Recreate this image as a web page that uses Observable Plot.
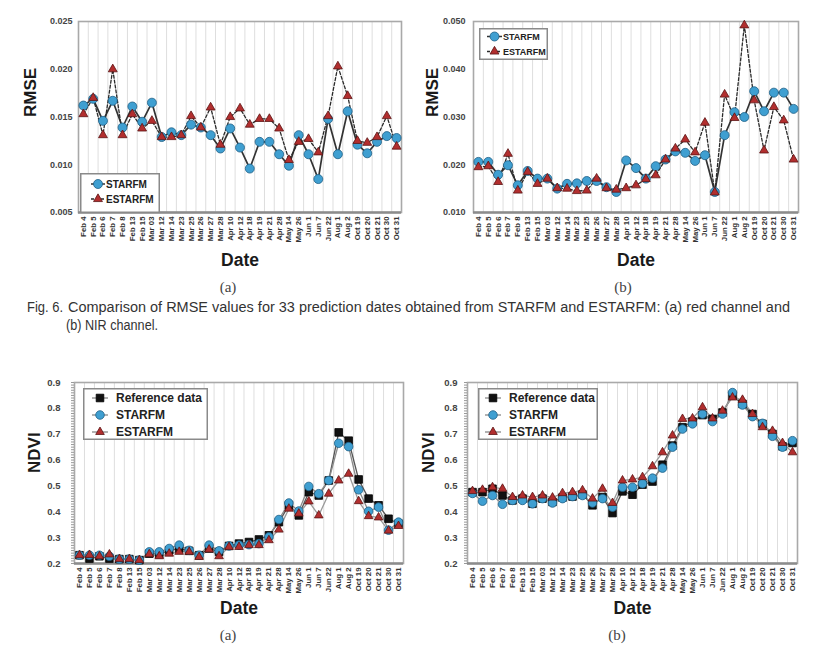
<!DOCTYPE html>
<html><head><meta charset="utf-8">
<script src="https://cdn.jsdelivr.net/npm/d3@7"></script>
<script src="https://cdn.jsdelivr.net/npm/@observablehq/plot@0.6"></script>
<style>
body{margin:0;background:#fff;}
#page{position:relative;width:818px;height:660px;overflow:hidden;background:#fff;font-family:"Liberation Sans",Arial,sans-serif;}
.panel{position:absolute;}
.panel svg{overflow:visible;}
.sub{position:absolute;font-family:"Liberation Serif","DejaVu Serif",serif;font-size:15px;color:#444;transform:translate(-50%,-50%);}
.leg{position:absolute;overflow:visible;}
</style>
</head><body><div id="page"></div>
<script>
const dates = ["Feb 4","Feb 5","Feb 6","Feb 7","Feb 8","Feb 13","Feb 15","Mar 03","Mar 12","Mar 14","Mar 23","Mar 25","Mar 26","Mar 27","Mar 28","Apr 10","Apr 12","Apr 18","Apr 19","Apr 21","Apr 28","May 14","May 26","Jun 1","Jun 7","Jun 22","Aug 1","Aug 2","Oct 19","Oct 20","Oct 21","Oct 30","Oct 31"];

const rmseRedSTARFM = [0.0162,0.0169,0.0146,0.0167,0.0139,0.0161,0.0145,0.0165,0.0129,0.0134,0.0131,0.0142,0.0139,0.0131,0.0117,0.0138,0.0118,0.0096,0.0124,0.0124,0.0111,0.0099,0.0131,0.0111,0.0085,0.0148,0.0111,0.0156,0.0121,0.0112,0.0124,0.0130,0.0128];
const rmseRedESTARFM = [0.0153,0.0170,0.0131,0.0200,0.0131,0.0153,0.0138,0.0146,0.0129,0.0129,0.0131,0.0151,0.0139,0.0160,0.0121,0.0150,0.0159,0.0142,0.0148,0.0148,0.0138,0.0105,0.0124,0.0127,0.0113,0.0151,0.0203,0.0172,0.0125,0.0123,0.0129,0.0151,0.0119];
const rmseNirSTARFM = [0.0206,0.0206,0.0179,0.0199,0.0157,0.0187,0.0171,0.0171,0.0150,0.0160,0.0161,0.0166,0.0166,0.0153,0.0143,0.0209,0.0193,0.0171,0.0197,0.0211,0.0228,0.0225,0.0208,0.0220,0.0143,0.0262,0.0310,0.0300,0.0354,0.0312,0.0351,0.0351,0.0317];
const rmseNirESTARFM = [0.0195,0.0197,0.0164,0.0223,0.0146,0.0185,0.0160,0.0171,0.0151,0.0150,0.0145,0.0146,0.0171,0.0151,0.0148,0.0151,0.0157,0.0170,0.0178,0.0211,0.0234,0.0253,0.0226,0.0288,0.0142,0.0347,0.0298,0.0492,0.0335,0.0230,0.0321,0.0293,0.0211];

const ndviARef = [0.232,0.219,0.228,0.219,0.217,0.217,0.213,0.238,0.236,0.251,0.258,0.249,0.232,0.258,0.245,0.268,0.277,0.283,0.293,0.309,0.360,0.425,0.386,0.476,0.463,0.521,0.707,0.675,0.525,0.451,0.425,0.373,0.354];
const ndviASTARFM = [0.232,0.232,0.232,0.228,0.217,0.217,0.213,0.245,0.245,0.258,0.271,0.251,0.232,0.271,0.249,0.268,0.271,0.273,0.277,0.303,0.370,0.434,0.403,0.498,0.470,0.521,0.665,0.652,0.485,0.402,0.418,0.329,0.360];
const ndviAESTARFM = [0.232,0.233,0.228,0.235,0.217,0.217,0.213,0.236,0.228,0.238,0.245,0.245,0.225,0.254,0.228,0.264,0.264,0.271,0.271,0.290,0.331,0.412,0.393,0.440,0.386,0.470,0.521,0.547,0.441,0.383,0.378,0.327,0.345];

const ndviBRef = [0.476,0.476,0.489,0.463,0.444,0.451,0.431,0.451,0.438,0.455,0.459,0.467,0.425,0.457,0.395,0.479,0.466,0.505,0.517,0.582,0.656,0.727,0.749,0.774,0.759,0.784,0.849,0.817,0.778,0.740,0.701,0.653,0.666];
const ndviBSTARFM = [0.471,0.441,0.463,0.429,0.444,0.444,0.431,0.451,0.434,0.451,0.459,0.463,0.434,0.451,0.418,0.495,0.495,0.509,0.530,0.569,0.650,0.720,0.740,0.778,0.749,0.778,0.861,0.813,0.768,0.742,0.692,0.650,0.675];
const ndviBESTARFM = [0.480,0.485,0.495,0.489,0.457,0.463,0.457,0.463,0.455,0.472,0.476,0.483,0.451,0.489,0.434,0.521,0.525,0.534,0.576,0.630,0.695,0.759,0.761,0.804,0.761,0.791,0.842,0.833,0.778,0.727,0.713,0.666,0.630];

const rmseRedTicks = [0.005,0.010,0.015,0.020,0.025];
const rmseNirTicks = [0.010,0.020,0.030,0.040,0.050];
const ndviTicks = [0.2,0.3,0.4,0.5,0.6,0.7,0.8,0.9];
const ndviMinorTicks = d3.range(20, 91).map(v => v / 100);

const idx = d3.range(dates.length);
const FONT = "Liberation Sans, Arial, sans-serif";

const STY = {
  starTop:  {name:"STARFM",  symbol:"circle",   r:4.5, fill:"#3f9fd1", stroke:"#1f5f85", line:"#333",    lw:1.7, dash:null},
  estTop:   {name:"ESTARFM", symbol:"triangle", r:3.3, fill:"#b22e2e", stroke:"#5c1414", line:"#2a2a2a", lw:1.3, dash:"3,2"},
  ref:      {name:"Reference data", symbol:"square", r:4.3, fill:"#111", stroke:"#000", line:"#555", lw:1.3, dash:null},
  starBot:  {name:"STARFM",  symbol:"circle",   r:4.3, fill:"#3f9fd1", stroke:"#1f5f85", line:"#8a8a8a", lw:1.3, dash:null},
  estBot:   {name:"ESTARFM", symbol:"triangle", r:3.2, fill:"#b22e2e", stroke:"#5c1414", line:"#9a9a9a", lw:1.3, dash:null}
};

const page = document.getElementById("page");

function panel(cfg) {
  const marks = [
    Plot.ruleX(idx.slice(1), {x: i => i - 0.5, stroke: "#dedede", strokeWidth: 1}),
    Plot.frame({stroke: "#a9a9a9", strokeWidth: 1.6}),
    Plot.ruleY([cfg.yDomain[0]], {stroke: "#8c8c8c", strokeWidth: 2.6}),
    Plot.axisY({ticks: cfg.yTicks, tickFormat: cfg.yFmt, tickSize: 0, tickPadding: cfg.tickPad, label: null,
      fontSize: cfg.yFont, fontWeight: "bold", fill: "#444", fontFamily: FONT}),
    Plot.axisX({ticks: idx, tickFormat: i => dates[i], tickRotate: -90, tickSize: 0, tickPadding: 4, label: null,
      fontSize: 7.8, fontWeight: "bold", fill: "#333", fontFamily: FONT}),
    Plot.text([cfg.yLabel], {text: d => d, frameAnchor: "left", dx: -cfg.yLabelDx, rotate: -90, lineAnchor: "middle",
      fontSize: 17, fontWeight: "bold", fill: "#1a1a1a", fontFamily: FONT}),
    Plot.text(["Date"], {text: d => d, frameAnchor: "bottom", dy: cfg.dateDy, lineAnchor: "middle",
      fontSize: 17.5, fontWeight: "bold", fill: "#1a1a1a", fontFamily: FONT})
  ];
  if (cfg.minor) marks.push(Plot.axisY({ticks: cfg.minor, tickSize: 3, tickFormat: () => "", label: null, stroke: "#999"}));
  for (const s of cfg.series) {
    marks.push(Plot.line(idx, {x: i => i, y: i => s.values[i], stroke: s.st.line, strokeWidth: s.st.lw, strokeDasharray: s.st.dash}));
  }
  for (const s of cfg.series) {
    marks.push(Plot.dot(idx, {x: i => i, y: i => s.values[i], symbol: s.st.symbol, r: s.st.r, fill: s.st.fill, stroke: s.st.stroke, strokeWidth: 0.8}));
  }
  const svg = Plot.plot({
    width: cfg.width, height: cfg.height,
    marginTop: cfg.mt, marginBottom: cfg.height - cfg.plotBottom, marginLeft: cfg.ml, marginRight: cfg.mr,
    x: {domain: [-0.5, dates.length - 0.5]},
    y: {domain: cfg.yDomain},
    style: {fontFamily: FONT, background: "transparent", overflow: "visible"},
    marks
  });
  const div = document.createElement("div");
  div.className = "panel";
  div.style.left = cfg.left + "px";
  div.style.top = cfg.top + "px";
  div.appendChild(svg);
  page.appendChild(div);
}

function legend(cfg) {
  const svg = d3.create("svg").attr("class", "leg")
    .attr("width", cfg.w).attr("height", cfg.h)
    .style("left", cfg.left + "px").style("top", cfg.top + "px");
  svg.append("rect").attr("x", 0.75).attr("y", 0.75).attr("width", cfg.w - 1.5).attr("height", cfg.h - 1.5)
    .attr("fill", "#fff").attr("stroke", "#8a8a8a").attr("stroke-width", 1.5);
  cfg.items.forEach((st, k) => {
    const y = cfg.rows[k];
    svg.append("line").attr("x1", cfg.lx1).attr("x2", cfg.lx2).attr("y1", y).attr("y2", y)
      .attr("stroke", cfg.lineColor || st.line).attr("stroke-width", 1.5).attr("stroke-dasharray", st.dash);
    const area = Math.PI * st.r * st.r;
    const sym = st.symbol === "circle" ? d3.symbolCircle : st.symbol === "square" ? d3.symbolSquare : d3.symbolTriangle;
    svg.append("path").attr("d", d3.symbol(sym, area)()).attr("transform", `translate(${cfg.mx},${y})`)
      .attr("fill", st.fill).attr("stroke", st.stroke).attr("stroke-width", 0.8);
    svg.append("text").attr("x", cfg.tx).attr("y", y).attr("dy", "0.36em")
      .attr("font-family", FONT).attr("font-weight", "bold").attr("font-size", cfg.fs).attr("fill", "#222")
      .text(st.name);
  });
  page.appendChild(svg.node());
}

const fmt3 = d3.format(".3f");
const fmt1 = d3.format(".1f");

panel({left: 0, top: 0, width: 409, height: 270, mt: 21, plotBottom: 212, ml: 78, mr: 8,
  yDomain: [0.005, 0.025], yTicks: rmseRedTicks, yFmt: fmt3, yFont: 9, tickPad: 6,
  yLabel: "RMSE", yLabelDx: 48, dateDy: 48,
  series: [{values: rmseRedSTARFM, st: STY.starTop}, {values: rmseRedESTARFM, st: STY.estTop}]});

panel({left: 409, top: 0, width: 409, height: 270, mt: 21, plotBottom: 212, ml: 64, mr: 20,
  yDomain: [0.010, 0.050], yTicks: rmseNirTicks, yFmt: fmt3, yFont: 9, tickPad: 8,
  yLabel: "RMSE", yLabelDx: 41, dateDy: 48,
  series: [{values: rmseNirSTARFM, st: STY.starTop}, {values: rmseNirESTARFM, st: STY.estTop}]});

panel({left: 0, top: 355, width: 409, height: 270, mt: 27, plotBottom: 208, ml: 74, mr: 6,
  yDomain: [0.2, 0.9], yTicks: ndviTicks, yFmt: fmt1, yFont: 9.5, tickPad: 14, minor: ndviMinorTicks,
  yLabel: "NDVI", yLabelDx: 40, dateDy: 45,
  series: [{values: ndviARef, st: STY.ref}, {values: ndviASTARFM, st: STY.starBot}, {values: ndviAESTARFM, st: STY.estBot}]});

panel({left: 409, top: 355, width: 409, height: 270, mt: 27, plotBottom: 208, ml: 58, mr: 21,
  yDomain: [0.2, 0.9], yTicks: ndviTicks, yFmt: fmt1, yFont: 9.5, tickPad: 10, minor: ndviMinorTicks,
  yLabel: "NDVI", yLabelDx: 39, dateDy: 45,
  series: [{values: ndviBRef, st: STY.ref}, {values: ndviBSTARFM, st: STY.starBot}, {values: ndviBESTARFM, st: STY.estBot}]});

legend({left: 80, top: 173, w: 80, h: 40, rows: [11, 26], lx1: 11, lx2: 25, mx: 18, tx: 26, fs: 10,
  items: [STY.starTop, STY.estTop]});
legend({left: 479, top: 28, w: 69, h: 32, rows: [8.5, 23.5], lx1: 8, lx2: 23, mx: 15.5, tx: 24, fs: 9,
  items: [STY.starTop, STY.estTop]});
legend({left: 83, top: 388, w: 125, h: 52, rows: [10, 27, 44], lx1: 9, lx2: 25, mx: 17, tx: 33, fs: 12,
  lineColor: "#999", items: [STY.ref, STY.starBot, STY.estBot]});
legend({left: 478, top: 388, w: 120, h: 52, rows: [10, 27, 44], lx1: 7, lx2: 23, mx: 15, tx: 31, fs: 12,
  lineColor: "#999", items: [STY.ref, STY.starBot, STY.estBot]});

// sub-figure labels
[["(a)", 228, 287], ["(b)", 623, 287], ["(a)", 228, 635], ["(b)", 617, 635]].forEach(([t, x, y]) => {
  const d = document.createElement("div");
  d.className = "sub"; d.textContent = t;
  d.style.left = x + "px"; d.style.top = y + "px";
  page.appendChild(d);
});

// figure caption
const cap = d3.create("svg").attr("width", 818).attr("height", 40)
  .style("position", "absolute").style("left", "0px").style("top", "295px");
const capFont = "Liberation Sans Narrow, Liberation Sans, Arial, sans-serif";
cap.append("text").attr("x", 27).attr("y", 17).attr("font-family", capFont).attr("font-size", 14).attr("fill", "#333")
  .attr("textLength", 36).attr("lengthAdjust", "spacingAndGlyphs")
  .text("Fig. 6.");
cap.append("text").attr("x", 68).attr("y", 17).attr("font-family", capFont).attr("font-size", 14).attr("fill", "#333")
  .attr("textLength", 722).attr("lengthAdjust", "spacingAndGlyphs")
  .text("Comparison of RMSE values for 33 prediction dates obtained from STARFM and ESTARFM: (a) red channel and");
cap.append("text").attr("x", 66).attr("y", 35).attr("font-family", capFont).attr("font-size", 14).attr("fill", "#333")
  .attr("textLength", 92).attr("lengthAdjust", "spacingAndGlyphs")
  .text("(b) NIR channel.");
page.appendChild(cap.node());
</script>
</body></html>
